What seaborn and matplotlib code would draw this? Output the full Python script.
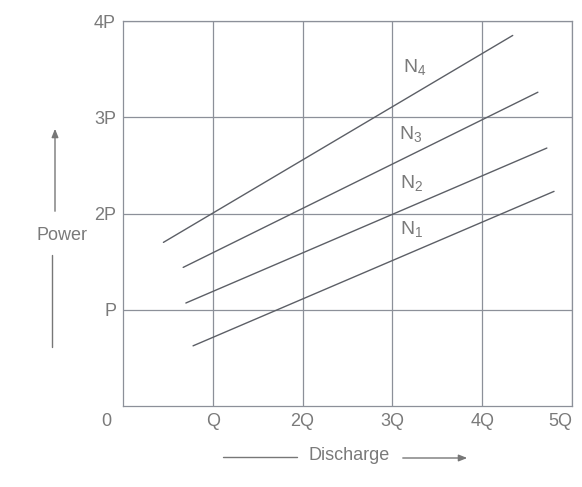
import matplotlib
matplotlib.use('Agg')
import matplotlib.pyplot as plt
import seaborn as sns
import pandas as pd

# ---- data ----
curves = ['N$_1$', 'N$_2$', 'N$_3$', 'N$_4$']
x_start = [0.78, 0.70, 0.67, 0.45]
x_end = [4.80, 4.72, 4.62, 4.34]
y_start = [0.625, 1.07, 1.44, 1.70]
y_end = [2.23, 2.68, 3.26, 3.85]
label_x = [3.08, 3.08, 3.07, 3.12]
label_y = [1.84, 2.32, 2.83, 3.52]
x_ticks = [1, 2, 3, 4, 5]
x_ticklabels = ['Q', '2Q', '3Q', '4Q', '5Q']
y_ticks = [1, 2, 3, 4]
y_ticklabels = ['P', '2P', '3P', '4P']

rows = []
for c, xs, xe, ys, ye in zip(curves, x_start, x_end, y_start, y_end):
    rows.append({'curve': c, 'Discharge': xs, 'Power': ys})
    rows.append({'curve': c, 'Discharge': xe, 'Power': ye})
df = pd.DataFrame(rows)

sns.set_style('white')
plt.rcParams['font.family'] = ['Liberation Sans', 'DejaVu Sans']
plt.rcParams['mathtext.fontset'] = 'custom'
plt.rcParams['mathtext.rm'] = 'Liberation Sans'
plt.rcParams['mathtext.default'] = 'regular'

W, H = 582, 487
fig = plt.figure(figsize=(W / 100, H / 100), dpi=100)
left, right, top, bottom = 123, 572, 21, 406
ax = fig.add_axes([left / W, 1 - bottom / H, (right - left) / W, (bottom - top) / H])

line_col = '#5c5f66'
grid_col = '#8c9099'
text_col = '#7a7a7a'

sns.lineplot(data=df, x='Discharge', y='Power', units='curve', estimator=None,
             color=line_col, linewidth=1.0, ax=ax, legend=False)

ax.set_xlim(0, 5)
ax.set_ylim(0, 4)
ax.set_xticks(x_ticks)
ax.set_xticklabels(x_ticklabels)
ax.set_yticks(y_ticks)
ax.set_yticklabels(y_ticklabels)
ax.tick_params(length=0, labelsize=13, labelcolor=text_col)
ax.tick_params(axis='x', pad=5)
ax.tick_params(axis='y', pad=5)
ax.get_xticklabels()[-1].set_horizontalalignment('right')
ax.set_xlabel('')
ax.set_ylabel('')
ax.grid(True, color=grid_col, linewidth=0.9)
for s in ax.spines.values():
    s.set_color(grid_col)
    s.set_linewidth(0.9)

ax.annotate('0', xy=(0, 0), xytext=(-12, -5), textcoords='offset points',
            ha='center', va='top', fontsize=13, color=text_col)

for c, lx, ly in zip(curves, label_x, label_y):
    ax.text(lx, ly, c, fontsize=14, color=text_col, ha='left', va='center')


def px(x, y):
    return (x / W, 1 - y / H)


# Power label with arrow
fig.text(*px(62, 235), 'Power', fontsize=13, color=text_col, ha='center', va='center')
fig.add_artist(matplotlib.patches.FancyArrowPatch(px(55, 214), px(55, 126), transform=fig.transFigure,
                                                  arrowstyle='-|>,head_length=5,head_width=2',
                                                  color='#777777', linewidth=1.0))
fig.add_artist(matplotlib.lines.Line2D([52 / W, 52 / W], [1 - 347 / H, 1 - 255 / H],
                                       transform=fig.transFigure, color='#777777', linewidth=1.0))

# Discharge label with arrow
fig.text(*px(349, 456), 'Discharge', fontsize=13, color=text_col, ha='center', va='center')
fig.add_artist(matplotlib.lines.Line2D([223 / W, 297 / W], [1 - 457 / H, 1 - 457 / H],
                                       transform=fig.transFigure, color='#777777', linewidth=1.0))
fig.add_artist(matplotlib.patches.FancyArrowPatch(px(400, 458), px(470, 458), transform=fig.transFigure,
                                                  arrowstyle='-|>,head_length=5,head_width=2',
                                                  color='#777777', linewidth=1.0))

fig.savefig('out.png', dpi=100)
